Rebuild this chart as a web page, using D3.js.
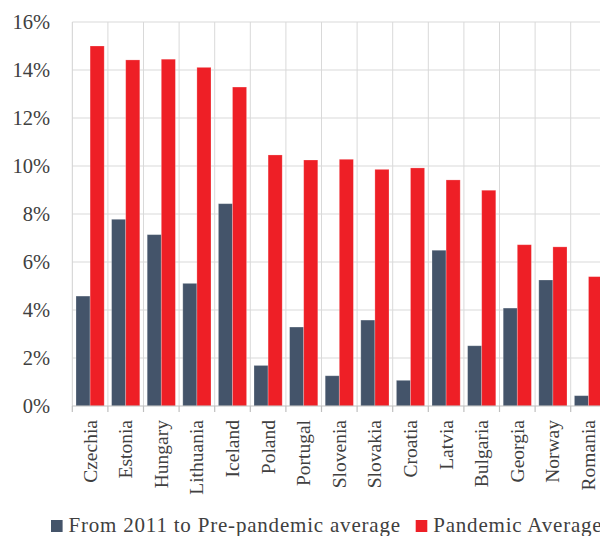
<!DOCTYPE html>
<html>
<head>
<meta charset="utf-8">
<script src="https://cdn.jsdelivr.net/npm/d3@7"></script>
<style>
html,body{margin:0;padding:0;background:#fff;}
svg{display:block;}
</style>
</head>
<body>
<svg id="chart" width="600" height="536"></svg>
<script>
const categories = ["Czechia","Estonia","Hungary","Lithuania","Iceland","Poland","Portugal","Slovenia","Slovakia","Croatia","Latvia","Bulgaria","Georgia","Norway","Romania"];
const seriesNames = ["From 2011 to Pre-pandemic average","Pandemic Average"];
const preValues = [4.58,7.78,7.14,5.11,8.43,1.69,3.29,1.26,3.58,1.07,6.49,2.51,4.08,5.25,0.43];
const pandemicValues = [15.0,14.42,14.45,14.11,13.29,10.46,10.25,10.28,9.86,9.92,9.42,8.99,6.72,6.63,5.39];
const yTicks = [0,2,4,6,8,10,12,14,16];
const colors = ["#44546a","#ee1f26"];

const svg = d3.select("#chart");
const font = "'Liberation Serif','Times New Roman',serif";
const textColor = "#404040";

const x = d3.scaleBand().domain(categories).range([72.3, 606.3]).padding(0);
const x1 = d3.scaleBand().domain(seriesNames).range([3.7, x.bandwidth() - 3.7]).padding(0);
const y = d3.scaleLinear().domain([0,16]).range([406, 22]);

// horizontal gridlines
svg.append("g").selectAll("line").data(yTicks.slice(1)).join("line")
  .attr("x1", x.range()[0]).attr("x2", x.range()[1])
  .attr("y1", d => y(d)).attr("y2", d => y(d))
  .attr("stroke", "#d9d9d9").attr("stroke-width", 1);

// vertical gridlines at category boundaries
svg.append("g").selectAll("line").data(categories.slice(1)).join("line")
  .attr("x1", d => x(d)).attr("x2", d => x(d))
  .attr("y1", y(16)).attr("y2", y(0))
  .attr("stroke", "#d9d9d9").attr("stroke-width", 1);

// left axis line
svg.append("line").attr("x1", x.range()[0]).attr("x2", x.range()[0])
  .attr("y1", y(16)).attr("y2", y(0)).attr("stroke", "#d0d0d0");

// bars
const data = categories.map((c,i) => ({c, vals:[preValues[i], pandemicValues[i]]}));
const g = svg.append("g").selectAll("g").data(data).join("g")
  .attr("transform", d => `translate(${x(d.c)},0)`);
g.selectAll("rect").data(d => d.vals.map((v,j) => ({s: seriesNames[j], v, j}))).join("rect")
  .attr("x", d => x1(d.s))
  .attr("width", x1.bandwidth())
  .attr("y", d => y(d.v))
  .attr("height", d => y(0) - y(d.v))
  .attr("fill", d => colors[d.j])
  .attr("stroke", "rgba(255,255,255,0.3)")
  .attr("stroke-width", 0.8);

// x axis line
svg.append("line").attr("x1", x.range()[0]).attr("x2", x.range()[1])
  .attr("y1", y(0)).attr("y2", y(0))
  .attr("stroke", "#bfbfbf").attr("stroke-width", 1.2);
// boundary ticks
svg.append("g").selectAll("line").data(categories).join("line")
  .attr("x1", d => x(d)).attr("x2", d => x(d))
  .attr("y1", y(0)).attr("y2", y(0) + 6)
  .attr("stroke", "#bfbfbf").attr("stroke-width", 1.2);

// x labels
svg.append("g").selectAll("text").data(categories).join("text")
  .attr("transform", d => `translate(${x(d) + x.bandwidth()/2 + 6.5},420) rotate(-90)`)
  .attr("text-anchor", "end")
  .style("font-family", font).style("font-size", "19.5px")
  .attr("fill", textColor)
  .text(d => d);

// y labels
svg.append("g").selectAll("text").data(yTicks).join("text")
  .attr("x", 50).attr("y", d => y(d)).attr("dy", "0.35em")
  .attr("text-anchor", "end")
  .style("font-family", font).style("font-size", "20.5px")
  .attr("fill", textColor)
  .text(d => d + "%");

// legend
const legendItems = [{name: seriesNames[0], x: 51}, {name: seriesNames[1], x: 415.7}];
const lg = svg.append("g").selectAll("g").data(legendItems).join("g")
  .attr("transform", d => `translate(${d.x},0)`);
lg.append("rect").attr("x", 0).attr("y", 520).attr("width", 11.6).attr("height", 12)
  .attr("fill", (d,i) => colors[i]);
lg.append("text").attr("x", 17.5).attr("y", 532)
  .style("font-family", font).style("font-size", "21px").style("letter-spacing", "0.8px")
  .attr("fill", textColor)
  .text(d => d.name);
</script>
</body>
</html>
